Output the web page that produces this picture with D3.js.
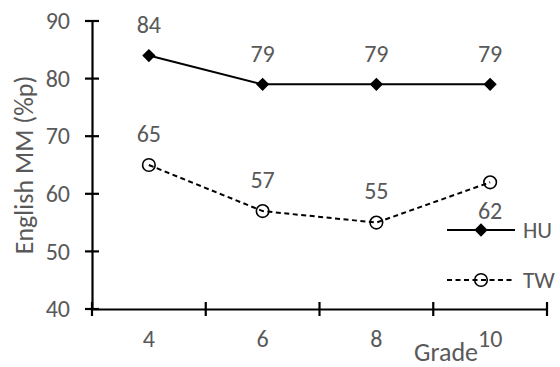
<!DOCTYPE html>
<html><head><meta charset="utf-8">
<script src="https://cdn.jsdelivr.net/npm/d3@7"></script>
<style>body{margin:0;background:#fff}svg{display:block}text{font-family:Carlito,Lato,"Open Sans",sans-serif}</style>
</head><body><svg id="c" width="560" height="367"></svg>
<script>
const grades = ["4","6","8","10"];
const huValues = [84,79,79,79];
const twValues = [65,57,55,62];
const yTicks = [40,50,60,70,80,90];
const seriesNames = ["HU","TW"];

const svg = d3.select("#c");
const m = {l:92, r:13, t:21, b:58};
const W = 560, H = 367;
const x = d3.scaleBand().domain(grades).range([m.l, W-m.r]).padding(0);
const y = d3.scaleLinear().domain([40,90]).range([H-m.b, m.t]);
const grey = "#595959";
const fs = 24, fst = 26, fsl = 23;

// axes
const yAx = svg.append("g").attr("transform",`translate(${m.l},0)`)
  .call(d3.axisLeft(y).tickValues(yTicks).tickSize(0).tickPadding(22));
yAx.select(".domain").attr("stroke","#000").attr("stroke-width",2.2);
yAx.selectAll("text").attr("fill",grey).style("font-size",fs+"px");
svg.append("g").selectAll("line").data(yTicks).join("line")
  .attr("x1",m.l-7).attr("x2",m.l+7).attr("y1",d=>y(d)).attr("y2",d=>y(d))
  .attr("stroke","#000").attr("stroke-width",2.2);

const xAx = svg.append("g").attr("transform",`translate(0,${y(40)})`)
  .call(d3.axisBottom(x).tickSize(0).tickPadding(21));
xAx.select(".domain").attr("stroke","#000").attr("stroke-width",2.2);
xAx.selectAll("text").attr("fill",grey).style("font-size",fs+"px");
const bounds = grades.map(g=>x(g)).concat([x(grades[grades.length-1])+x.bandwidth()]);
svg.append("g").selectAll("line").data(bounds).join("line")
  .attr("x1",d=>d).attr("x2",d=>d).attr("y1",y(40)-7).attr("y2",y(40)+7)
  .attr("stroke","#000").attr("stroke-width",2.2);

// titles
svg.append("text").attr("transform",`translate(24,${(m.t+H-m.b)/2}) rotate(-90)`)
  .attr("text-anchor","middle").attr("dominant-baseline","central")
  .attr("fill",grey).style("font-size",fst+"px").text("English MM (%p)");
svg.append("text").attr("x",446).attr("y",361).attr("text-anchor","middle")
  .attr("fill",grey).style("font-size",fst+"px").text("Grade");

const cx = g => x(g)+x.bandwidth()/2;
const line = d3.line().x((d,i)=>cx(grades[i])).y(d=>y(d));
const diamond = d3.symbol().type(d3.symbolSquare).size(88);
const dash = "5,3.5";

// HU
svg.append("path").datum(huValues).attr("d",line).attr("fill","none")
  .attr("stroke","#000").attr("stroke-width",2);
svg.append("g").selectAll("path").data(huValues).join("path")
  .attr("d",diamond).attr("transform",(d,i)=>`translate(${cx(grades[i])},${y(d)}) rotate(45)`).attr("fill","#000");
svg.append("g").selectAll("text").data(huValues).join("text")
  .attr("x",(d,i)=>cx(grades[i])).attr("y",d=>y(d)-31).attr("text-anchor","middle")
  .attr("dominant-baseline","central").attr("fill",grey).style("font-size",fs+"px").text(d=>d);

// TW
svg.append("path").datum(twValues).attr("d",line).attr("fill","none")
  .attr("stroke","#000").attr("stroke-width",2).attr("stroke-dasharray",dash);
svg.append("g").selectAll("circle").data(twValues).join("circle")
  .attr("cx",(d,i)=>cx(grades[i])).attr("cy",d=>y(d)).attr("r",6.3)
  .attr("fill","none").attr("stroke","#000").attr("stroke-width",1.6);
svg.append("g").selectAll("text").data(twValues).join("text")
  .attr("x",(d,i)=>cx(grades[i])).attr("y",(d,i)=>i===3 ? y(d)+28 : y(d)-32).attr("text-anchor","middle")
  .attr("dominant-baseline","central").attr("fill",grey).style("font-size",fs+"px").text(d=>d);

// legend
const lg = [{n:seriesNames[0],y:230,dash:null,sym:"d"},{n:seriesNames[1],y:280,dash:dash,sym:"c"}];
lg.forEach(o=>{
  svg.append("line").attr("x1",447).attr("x2",515).attr("y1",o.y).attr("y2",o.y)
    .attr("stroke","#000").attr("stroke-width",2).attr("stroke-dasharray",o.dash);
  if(o.sym==="d") svg.append("path").attr("d",diamond).attr("transform",`translate(481,${o.y}) rotate(45)`).attr("fill","#000");
  else svg.append("circle").attr("cx",481).attr("cy",o.y).attr("r",6.3).attr("fill","none").attr("stroke","#000").attr("stroke-width",1.6);
  svg.append("text").attr("x",523).attr("y",o.y).attr("dominant-baseline","central")
    .attr("fill",grey).style("font-size",fsl+"px").text(o.n);
});
</script></body></html>
